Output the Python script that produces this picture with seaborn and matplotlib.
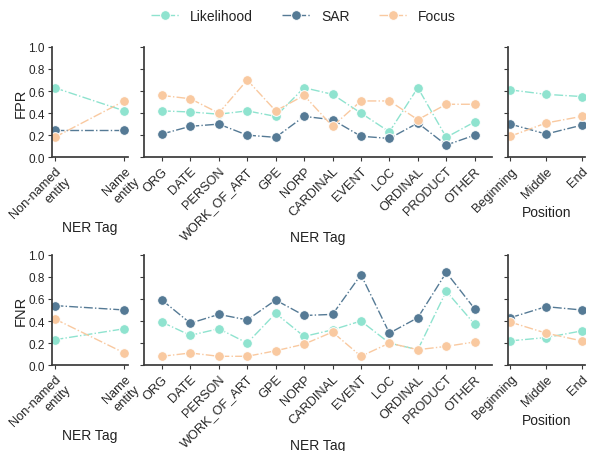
import matplotlib
matplotlib.use("Agg")
import matplotlib.pyplot as plt
import seaborn as sns
import pandas as pd

methods = ["Likelihood", "SAR", "Focus"]
colors = ["#8fe3cf", "#557a95", "#f9c9a0"]

ent_cats = ["Non-named\nentity", "Name\nentity"]
ner_cats = ["ORG", "DATE", "PERSON", "WORK_OF_ART", "GPE", "NORP", "CARDINAL",
            "EVENT", "LOC", "ORDINAL", "PRODUCT", "OTHER"]
pos_cats = ["Beginning", "Middle", "End"]

# FPR
fpr_ent = {"Likelihood": [0.63, 0.42], "SAR": [0.25, 0.25], "Focus": [0.18, 0.51]}
fpr_ner = {
    "Likelihood": [0.42, 0.41, 0.39, 0.42, 0.37, 0.63, 0.57, 0.40, 0.23, 0.63, 0.18, 0.32],
    "SAR":        [0.21, 0.28, 0.30, 0.20, 0.18, 0.37, 0.34, 0.19, 0.17, 0.31, 0.11, 0.20],
    "Focus":      [0.56, 0.53, 0.40, 0.70, 0.42, 0.56, 0.28, 0.51, 0.51, 0.34, 0.48, 0.48],
}
fpr_pos = {"Likelihood": [0.61, 0.57, 0.55], "SAR": [0.30, 0.21, 0.29], "Focus": [0.19, 0.31, 0.37]}

# FNR
fnr_ent = {"Likelihood": [0.23, 0.33], "SAR": [0.54, 0.50], "Focus": [0.42, 0.11]}
fnr_ner = {
    "Likelihood": [0.39, 0.27, 0.33, 0.20, 0.47, 0.26, 0.32, 0.40, 0.20, 0.14, 0.67, 0.37],
    "SAR":        [0.59, 0.38, 0.46, 0.41, 0.59, 0.45, 0.46, 0.82, 0.29, 0.43, 0.84, 0.51],
    "Focus":      [0.08, 0.11, 0.08, 0.08, 0.13, 0.19, 0.30, 0.08, 0.20, 0.14, 0.17, 0.21],
}
fnr_pos = {"Likelihood": [0.22, 0.25, 0.31], "SAR": [0.43, 0.53, 0.50], "Focus": [0.39, 0.29, 0.22]}

sns.set_theme(style="ticks")
plt.rcParams["font.family"] = ["Liberation Sans", "DejaVu Sans"]
plt.rcParams["axes.edgecolor"] = "#3a3a3a"
plt.rcParams["xtick.color"] = "#3a3a3a"
plt.rcParams["ytick.color"] = "#3a3a3a"
plt.rcParams["text.color"] = "#222222"
plt.rcParams["axes.labelcolor"] = "#222222"


def long_df(cats, d):
    rows = []
    for m in methods:
        for c, v in zip(cats, d[m]):
            rows.append({"cat": c, "method": m, "value": v})
    return pd.DataFrame(rows)


fig = plt.figure(figsize=(5.95, 4.52), dpi=100)

row_bottoms = [0.650, 0.190]
row_h = 0.244
col_specs = [(0.0869, 0.128), (0.2425, 0.584), (0.853, 0.130)]
xlims = [(-0.04, 1.05), (-0.62, 11.6), (-0.08, 2.09)]
xlabels = ["NER Tag", "NER Tag", "Position"]
xlabel_y = [-0.635, -0.725, -0.495]

data_rows = [
    ("FPR", [fpr_ent, fpr_ner, fpr_pos]),
    ("FNR", [fnr_ent, fnr_ner, fnr_pos]),
]
cats_list = [ent_cats, ner_cats, pos_cats]

handles = labels = None
for r, (ylab, dsets) in enumerate(data_rows):
    for c, (x0, w) in enumerate(col_specs):
        ax = fig.add_axes([x0, row_bottoms[r], w, row_h])
        df = long_df(cats_list[c], dsets[c])
        sns.pointplot(data=df, x="cat", y="value", hue="method",
                      order=cats_list[c], hue_order=methods, palette=colors,
                      markers="o", linestyles="-.", errorbar=None, dodge=False,
                      ax=ax, markersize=7, linewidth=1.0,
                      markeredgecolor="white", markeredgewidth=0.7)
        if handles is None:
            handles, labels = ax.get_legend_handles_labels()
        if ax.get_legend() is not None:
            ax.get_legend().remove()
        ax.set_ylim(0, 1.0)
        ax.set_yticks([0, 0.2, 0.4, 0.6, 0.8, 1.0])
        ax.set_xlim(*xlims[c])
        ax.tick_params(axis="both", length=3, width=0.8, labelcolor="#262626")
        ax.tick_params(axis="x", labelsize=9.2, pad=2.5)
        ax.tick_params(axis="y", labelsize=8.5, pad=2)
        for lab in ax.get_xticklabels():
            lab.set_rotation(45)
            lab.set_ha("right")
            lab.set_rotation_mode("anchor")
        ax.set_xlabel(xlabels[c], fontsize=10)
        ax.xaxis.set_label_coords(0.5, xlabel_y[c])
        ax.xaxis.label.set_va("center")
        if c == 0:
            ax.set_ylabel(ylab, fontsize=10.5)
            ax.yaxis.set_label_coords(-0.40, 0.5)
            ax.yaxis.label.set_va("center")
            ax.set_yticklabels(["0.0", "0.2", "0.4", "0.6", "0.8", "1.0"])
        else:
            ax.set_ylabel("")
            ax.set_yticklabels([])
        sns.despine(ax=ax)

fig.legend(handles, labels, loc="center", bbox_to_anchor=(0.51, 0.963), ncol=3,
           frameon=False, fontsize=10, columnspacing=2.1, handlelength=2.0,
           handletextpad=0.8)

fig.savefig("out.png", dpi=100)
